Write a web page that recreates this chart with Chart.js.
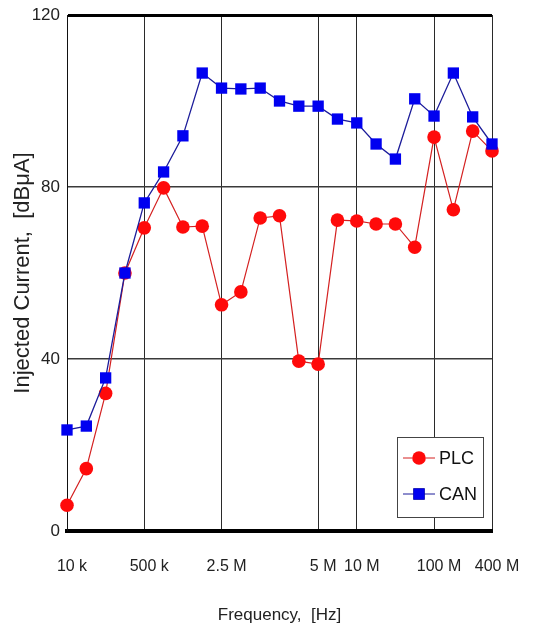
<!DOCTYPE html>
<html><head><meta charset="utf-8">
<script src="https://cdn.jsdelivr.net/npm/chart.js@4/dist/chart.umd.min.js"></script>
<style>html,body{margin:0;padding:0;background:#fff}#wrap{width:533px;height:629px;position:relative}</style>
</head><body><div id="wrap"><canvas id="c"></canvas></div>
<script>
// Frequency categories (evenly spaced measurement points); only some are labelled
const categories = ['10 k','','','','500 k','','','','2.5 M','','','','','5 M','','10 M','','','','100 M','','','400 M'];
const plcValues = [6, 14.5, 32, 60, 70.5, 79.8, 70.7, 70.9, 52.6, 55.6, 72.8, 73.3, 39.5, 38.8, 72.3, 72.1, 71.4, 71.4, 66, 91.6, 74.7, 93, 88.4];
const canValues = [23.5, 24.4, 35.6, 60, 76.3, 83.5, 91.9, 106.5, 103, 102.8, 103, 100, 98.8, 98.8, 95.8, 94.9, 90, 86.5, 100.5, 96.5, 106.5, 96.3, 90];
const yTicks = [0, 40, 80, 120];
const seriesNames = ['PLC', 'CAN'];

const FONT = "'Liberation Sans', Arial, sans-serif";

const insideLegend = {
  id: 'insideLegend',
  afterDraw(chart) {
    const {ctx, chartArea} = chart;
    const w = 86, h = 80;
    const x0 = chartArea.right - 9 - w, y0 = chartArea.bottom - 14 - h;
    ctx.save();
    ctx.fillStyle = '#fff';
    ctx.fillRect(x0, y0, w, h);
    ctx.strokeStyle = '#444';
    ctx.lineWidth = 1;
    ctx.strokeRect(x0 + 0.5, y0 + 0.5, w, h);
    const order = [1, 0];
    order.forEach((di, row) => {
      const ds = chart.data.datasets[di];
      const cy = y0 + 21 + row * 36;
      ctx.strokeStyle = ds.borderColor;
      ctx.lineWidth = 1;
      ctx.beginPath(); ctx.moveTo(x0 + 6, cy); ctx.lineTo(x0 + 38, cy); ctx.stroke();
      Chart.helpers.drawPoint(ctx, {pointStyle: ds.pointStyle, radius: ds.pointRadius, borderWidth: 0}, x0 + 22, cy);
      ctx.fillStyle = ds.pointBackgroundColor;
      ctx.fill();
      ctx.fillStyle = '#111';
      ctx.font = '18px ' + FONT;
      ctx.textBaseline = 'middle';
      ctx.fillText(ds.label, x0 + 42, cy + 1);
    });
    ctx.restore();
  }
};

new Chart(document.getElementById('c'), {
  type: 'line',
  data: {
    labels: categories,
    datasets: [
      {label: seriesNames[1], data: canValues, order: 0, borderColor: '#1c1c9a', borderWidth: 1.3,
       pointStyle: 'rect', pointRadius: 8, pointHoverRadius: 8, pointBackgroundColor: '#0000f0', pointBorderWidth: 0,
       clip: false, tension: 0},
      {label: seriesNames[0], data: plcValues, order: 1, borderColor: '#d42020', borderWidth: 1.2,
       pointStyle: 'circle', pointRadius: 6.8, pointHoverRadius: 6.8, pointBackgroundColor: '#ff0a0a', pointBorderWidth: 0,
       clip: false, tension: 0}
    ]
  },
  options: {
    responsive: true, maintainAspectRatio: false, animation: false,
    layout: {padding: {top: 15, right: 41, left: 0, bottom: 0}},
    plugins: {legend: {display: false}, tooltip: {enabled: false}},
    scales: {
      x: {
        type: 'category', offset: false,
        afterFit(s) { s.height = 98; s.paddingLeft = 0; s.paddingRight = 0; },
        grid: {offset: false, drawTicks: false,
               color: c => (categories[c.index] ? '#2a2a2a' : 'rgba(0,0,0,0)'), lineWidth: 1},
        border: {display: true, color: '#000', width: 4},
        ticks: {autoSkip: false, maxRotation: 0, padding: 26, labelOffset: 5, color: '#222',
                font: {family: FONT, size: 16},
                callback: (v, i) => categories[i]},
        title: {display: true, text: 'Frequency,  [Hz]', color: '#222', font: {family: FONT, size: 17},
                padding: {top: 0, bottom: 3}}
      },
      y: {
        min: 0, max: 120,
        afterFit(s) { s.width = 67; s.paddingTop = 0; s.paddingBottom = 0; },
        afterBuildTicks(s) { s.ticks = yTicks.map(v => ({value: v})); },
        grid: {drawTicks: false,
               color: c => (c.tick.value === 120 ? '#000' : '#3a3a3a'),
               lineWidth: c => (c.tick.value === 120 ? 3 : (c.tick.value === 0 ? 0 : 1.5))},
        border: {display: true, color: '#111', width: 1},
        ticks: {padding: 7, color: '#222', font: {family: FONT, size: 17}},
        title: {display: true, text: 'Injected Current,  [dBμA]', color: '#222', font: {family: FONT, size: 22},
                padding: {top: 10, bottom: 0}}
      }
    }
  },
  plugins: [insideLegend]
});
</script>
</body></html>
